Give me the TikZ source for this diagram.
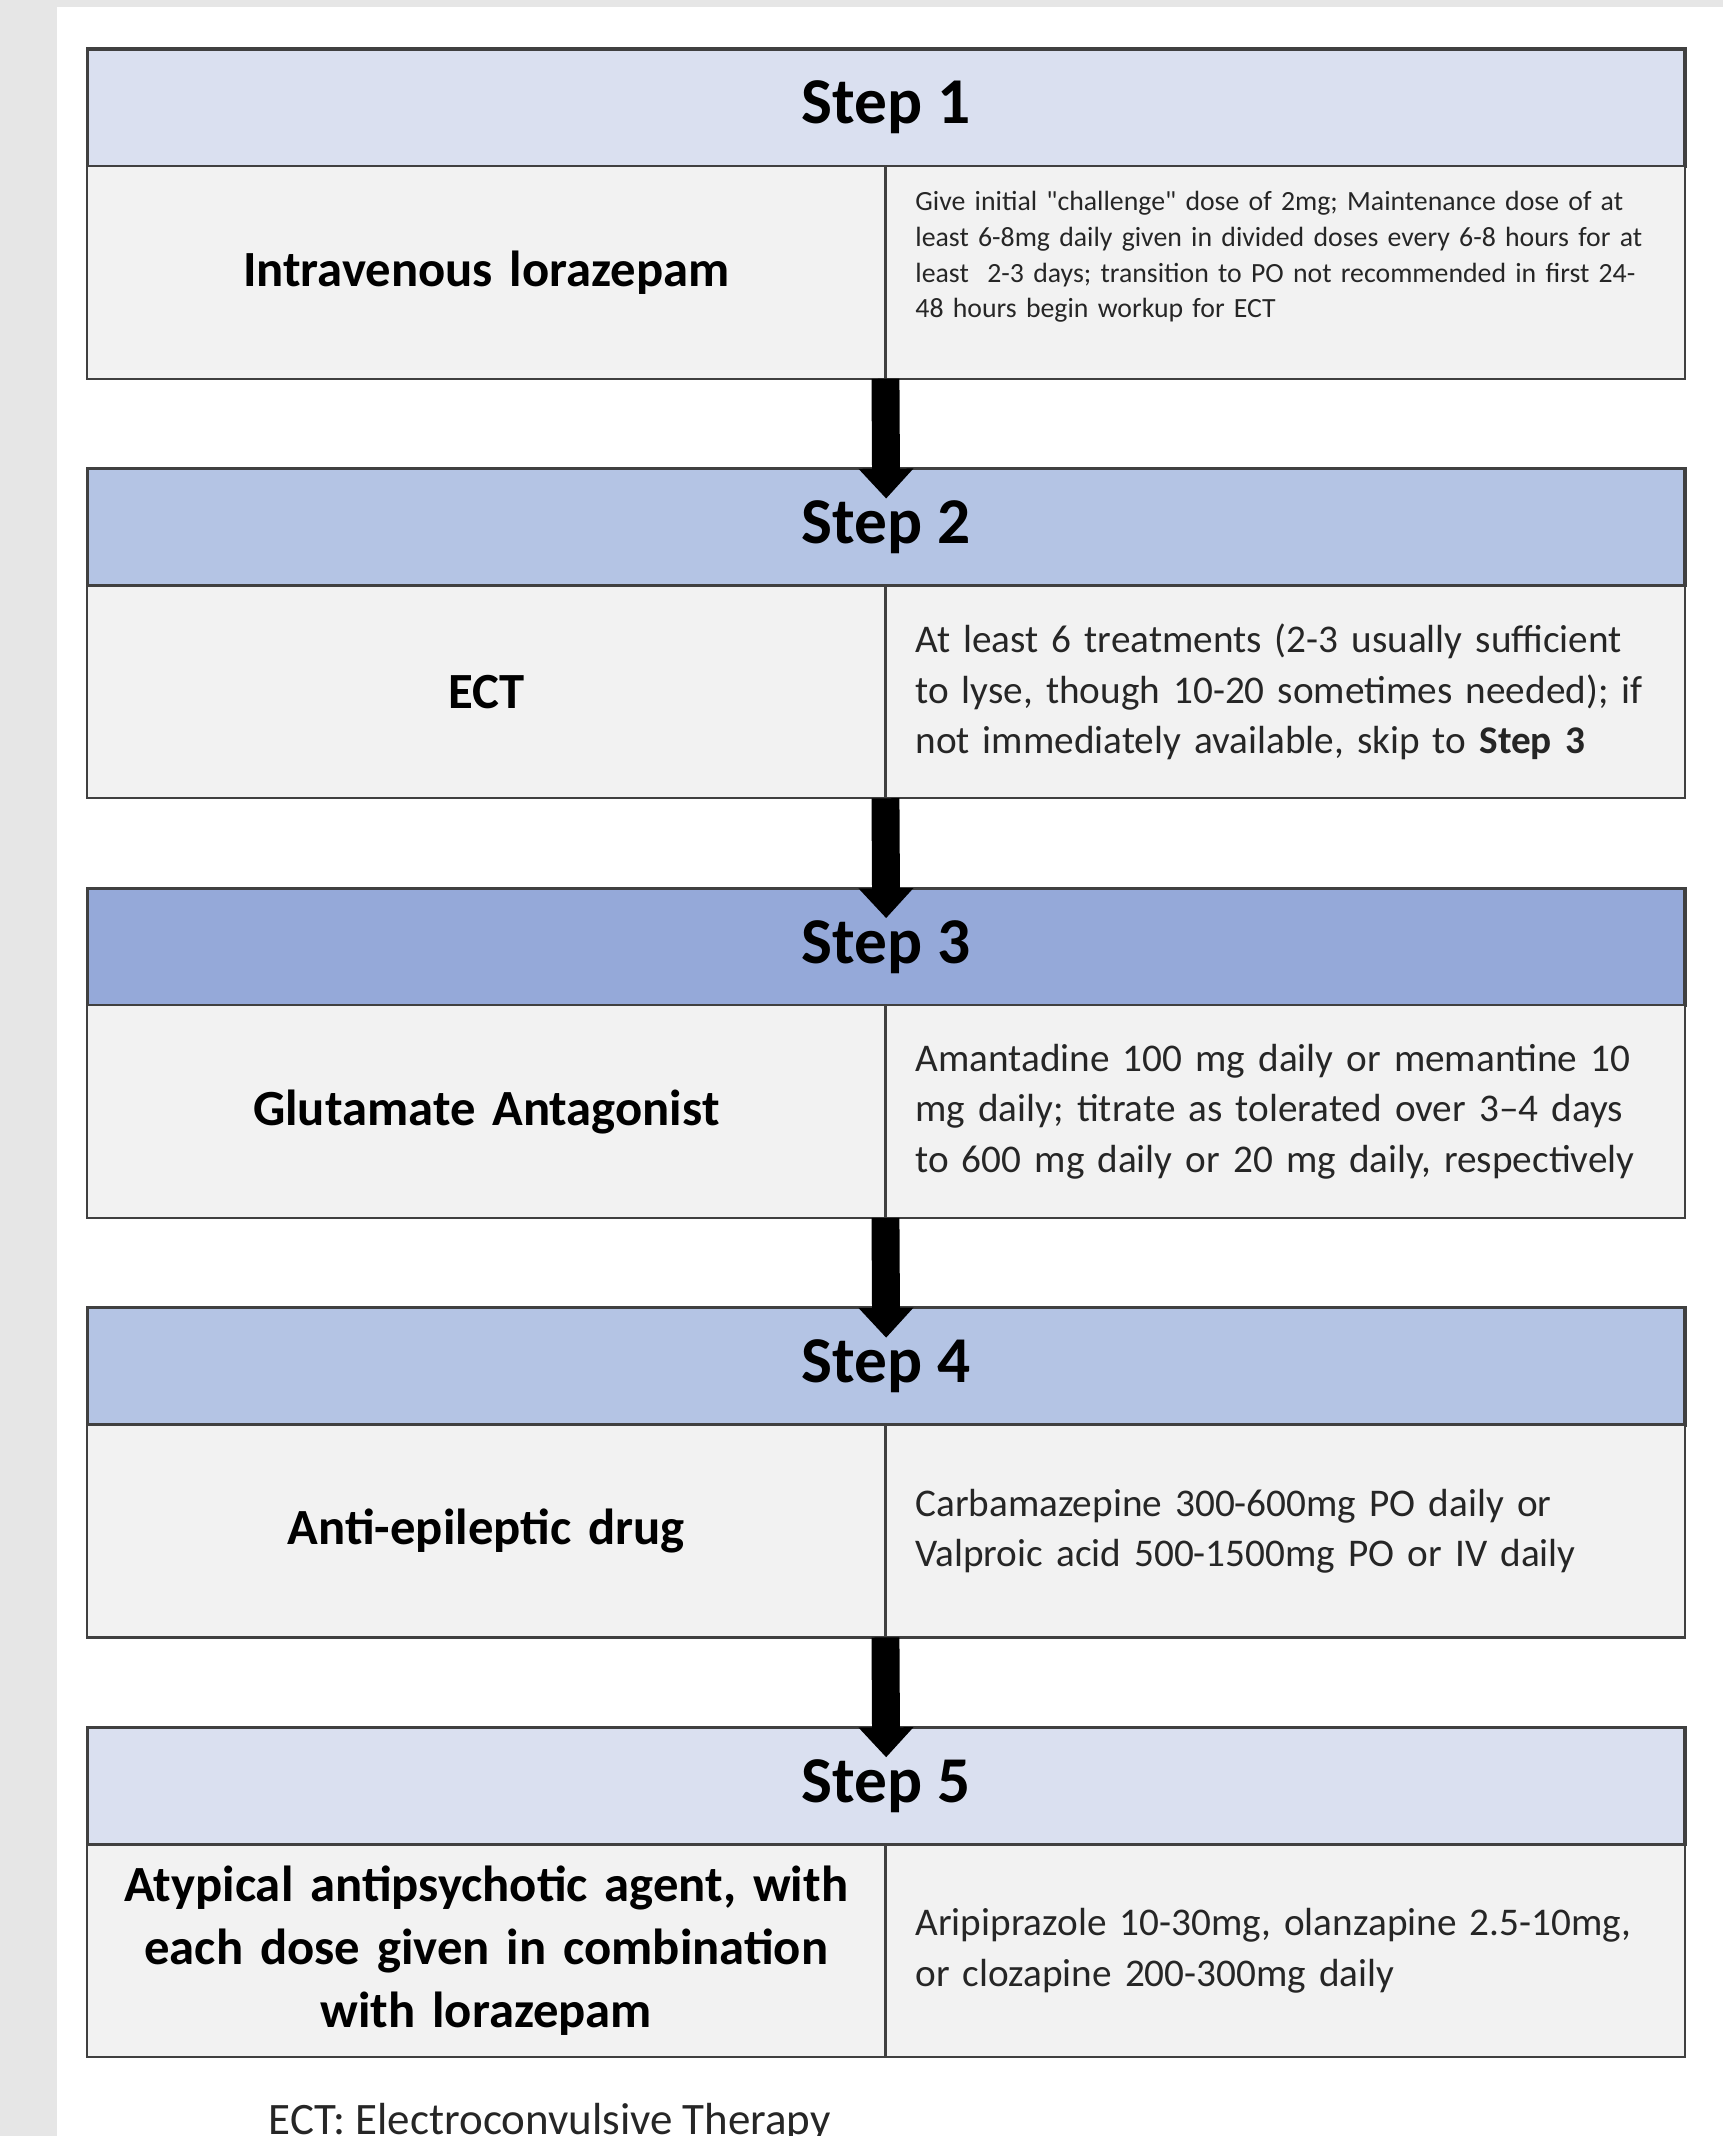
\documentclass[tikz,border=0pt]{standalone}
\usepackage{fontspec}
\setmainfont{Carlito}[Ligatures=TeXOff]
\usetikzlibrary{arrows.meta, positioning}
\definecolor{hdlight}{HTML}{DAE0F0}
\definecolor{hdmid}{HTML}{B4C4E4}
\definecolor{hddark}{HTML}{95A9D9}
\definecolor{cellfill}{HTML}{F2F2F2}
\definecolor{strip}{HTML}{E6E6E6}
\tikzstyle{head} = [rectangle, draw=black!75, line width=1.2pt, outer sep=0pt, minimum width=586.5pt, minimum height=43pt, font=\fontsize{24}{29}\selectfont\bfseries]
\tikzstyle{drug} = [rectangle, draw=black!75, line width=0.8pt, outer sep=0pt, fill=cellfill, minimum width=293pt, minimum height=78pt, text width=280pt, align=center, font=\fontsize{18.6}{23.25}\selectfont\bfseries]
\tikzstyle{dose} = [rectangle, draw=black!75, line width=0.8pt, outer sep=0pt, fill=cellfill, minimum width=293.5pt, minimum height=78pt, text width=271.5pt, inner xsep=11pt, align=left, text=black!85, font=\fontsize{14.4}{18.5}\selectfont]
\tikzstyle{line} = [draw, line width=10.25pt, -{Triangle[width=19.5pt,length=11pt]}]

\begin{document}
\begin{tikzpicture}[x=0.5pt, y=-0.5pt]
	\useasboundingbox (0,0) rectangle (1265,1568);
	\fill[white] (0,0) rectangle (1265,1568);
	\fill[strip] (0,0) rectangle (42,1568);
	\fill[strip] (0,0) rectangle (1265,5);

	\node[head, fill=hdlight, anchor=north west] (head1) at (64,36) {Step 1};
	\node[drug, anchor=north west] (drug1) at (head1.south west) {Intravenous lorazepam};
	\node[dose, right=0pt of drug1, font=\fontsize{10.2}{13.15}\selectfont] (dose1) {Give initial "challenge" dose of 2mg; Maintenance dose of at\\least 6-8mg daily given in divided doses every 6-8 hours for at\\least\ \ 2-3 days; transition to PO not recommended in first 24-\\48 hours begin workup for ECT\\\mbox{}};

	\node[head, fill=hdmid, below=33pt of drug1.south west, anchor=north west] (head2) {Step 2};
	\node[drug, anchor=north west] (drug2) at (head2.south west) {ECT};
	\node[dose, right=0pt of drug2] (dose2) {At least 6 treatments (2-3 usually sufficient\\to lyse, though 10-20 sometimes needed); if\\not immediately available, skip to \textbf{Step 3}};

	\node[head, fill=hddark, below=33pt of drug2.south west, anchor=north west] (head3) {Step 3};
	\node[drug, anchor=north west] (drug3) at (head3.south west) {Glutamate Antagonist};
	\node[dose, right=0pt of drug3] (dose3) {Amantadine 100 mg daily or memantine 10\\mg daily; titrate as tolerated over 3–4 days\\to 600 mg daily or 20 mg daily, respectively};

	\node[head, fill=hdmid, below=33pt of drug3.south west, anchor=north west] (head4) {Step 4};
	\node[drug, anchor=north west] (drug4) at (head4.south west) {Anti-epileptic drug};
	\node[dose, right=0pt of drug4] (dose4) {Carbamazepine 300-600mg PO daily or\\Valproic acid 500-1500mg PO or IV daily};

	\node[head, fill=hdlight, below=33pt of drug4.south west, anchor=north west] (head5) {Step 5};
	\node[drug, anchor=north west] (drug5) at (head5.south west) {Atypical antipsychotic agent, with\\each dose given in combination\\with lorazepam};
	\node[dose, right=0pt of drug5] (dose5) {Aripiprazole 10-30mg, olanzapine 2.5-10mg,\\or clozapine 200-300mg daily};

	\node[anchor=base west, inner sep=0pt, text=black!85, font=\fontsize{16.5}{19.5}\selectfont] (note) at (197,1567) {ECT: Electroconvulsive Therapy};

	\path [line] (drug1.south east) -- ([yshift=-11pt]head2.north);
	\path [line] (drug2.south east) -- ([yshift=-11pt]head3.north);
	\path [line] (drug3.south east) -- ([yshift=-11pt]head4.north);
	\path [line] (drug4.south east) -- ([yshift=-11pt]head5.north);
\end{tikzpicture}
\end{document}
